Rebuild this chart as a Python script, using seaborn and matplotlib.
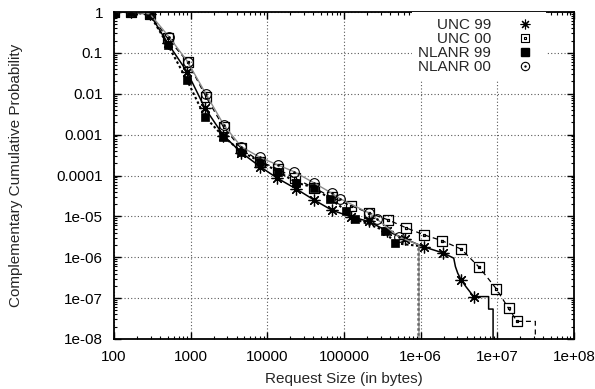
import numpy as np
import seaborn as sns
import matplotlib.pyplot as plt
from matplotlib.path import Path
from matplotlib.lines import Line2D
from matplotlib.ticker import LogLocator, NullFormatter

# complementary CDF of request sizes
unc99_x = [100, 166, 294, 505, 893, 1530, 2680, 4600, 8040, 13500, 23800, 40600,
           70400, 122000, 211000, 364000, 634000, 1.09e6, 1.95e6, 2.7e6, 2.84e6,
           3.04e6, 3.37e6, 3.9e6, 4.91e6, 7.7e6, 7.7e6, 8.8e6, 8.8e6]
unc99_y = [1.0, 1.0, 0.88, 0.17, 0.035, 0.0045, 9.5e-4, 3.6e-4, 1.65e-4, 8.6e-5,
           4.7e-5, 2.53e-5, 1.4e-5, 9.9e-6, 7.5e-6, 4.4e-6, 2.77e-6, 1.8e-6, 1.28e-6,
           9.5e-7, 5.9e-7, 4.1e-7, 2.8e-7, 1.9e-7, 1.09e-7, 1.09e-7, 5.4e-8, 5.4e-8, 1e-9]
unc99_marks = list(range(19)) + [22, 24]

unc00_x = [100, 166, 294, 500, 910, 1580, 2700, 4550, 8040, 13600, 23000, 40600,
           70000, 125000, 214000, 378000, 653000, 1.12e6, 1.88e6, 3.38e6, 5.8e6,
           9.7e6, 1.4e7, 1.81e7, 3.13e7, 3.13e7]
unc00_y = [1.0, 1.0, 0.9, 0.227, 0.061, 0.0085, 1.5e-3, 4.6e-4, 2.2e-4, 1.45e-4,
           8.5e-5, 5.0e-5, 2.9e-5, 1.8e-5, 1.2e-5, 8.2e-6, 5.2e-6, 3.5e-6, 2.56e-6,
           1.58e-6, 5.7e-7, 1.69e-7, 5.6e-8, 2.7e-8, 2.7e-8, 1e-9]
unc00_marks = list(range(24))

nlanr99_x = [100, 166, 294, 505, 893, 1530, 2680, 4600, 8040, 13800, 23900, 40500,
             64800, 106700, 141000, 338000, 458000, 940000, 940000]
nlanr99_y = [1.0, 1.0, 0.85, 0.156, 0.0217, 0.00275, 8.9e-4, 3.84e-4, 2.19e-4,
             1.25e-4, 6.7e-5, 5.06e-5, 2.72e-5, 1.39e-5, 8.55e-6, 4.5e-6, 2.21e-6,
             1.9e-6, 1e-9]
nlanr99_marks = list(range(17))

nlanr00_x = [100, 166, 294, 520, 912, 1580, 2730, 4550, 8040, 13600, 22100, 41200,
             69000, 89000, 214000, 272000, 514000, 950000, 950000]
nlanr00_y = [1.0, 1.0, 0.9, 0.249, 0.061, 0.0099, 1.68e-3, 5.1e-4, 2.77e-4, 1.82e-4,
             1.25e-4, 6.5e-5, 3.7e-5, 2.7e-5, 1.2e-5, 8.4e-6, 3.2e-6, 2.0e-6, 1e-9]
nlanr00_marks = list(range(17))

labels = ["UNC 99", "UNC 00", "NLANR 99", "NLANR 00"]
xticks = [1e2, 1e3, 1e4, 1e5, 1e6, 1e7, 1e8]
xtick_labels = ["100", "1000", "10000", "100000", "1e+06", "1e+07", "1e+08"]
yticks = [1e-8, 1e-7, 1e-6, 1e-5, 1e-4, 1e-3, 1e-2, 1e-1, 1]
ytick_labels = ["1e-08", "1e-07", "1e-06", "1e-05", "0.0001", "0.001", "0.01", "0.1", "1"]

sns.set_style("ticks")
plt.rcParams["font.family"] = ["Liberation Sans", "DejaVu Sans"]
plt.rcParams["font.size"] = 11

# gnuplot style open markers with a dot in the middle
sq = [(-1, -1), (1, -1), (1, 1), (-1, 1), (-1, -1)]
dot = [(-.15, -.15), (.15, -.15), (.15, .15), (-.15, .15), (-.15, -.15)]
sq_dot = Path.make_compound_path(Path(sq, closed=True), Path(dot, closed=True))
circ_dot = Path.make_compound_path(Path.circle((0, 0), 1), Path.circle((0, 0), 0.15))
star = (8, 2, 0)

fig = plt.figure(figsize=(5.95, 3.89), dpi=100)
ax = fig.add_axes([114 / 595, 1 - 339 / 389, 460 / 595, 327 / 389])
ax.set_xscale("log")
ax.set_yscale("log")

series = [
    (unc99_x, unc99_y, unc99_marks, dict(color="black", ls="-", lw=1.1, marker=star, ms=8.5, mec="black", mew=0.9)),
    (unc00_x, unc00_y, unc00_marks, dict(color="black", ls=(0, (4, 3)), lw=0.9, marker=sq_dot, ms=6.5, mfc="none", mec="black", mew=0.9)),
    (nlanr99_x, nlanr99_y, nlanr99_marks, dict(color="black", ls=(0, (1.2, 1.2)), lw=1.5, marker="s", ms=6.3, mfc="black", mec="black", mew=0.5)),
    (nlanr00_x, nlanr00_y, nlanr00_marks, dict(color="0.55", ls="-", lw=1.0, marker=circ_dot, ms=7, mfc="none", mec="black", mew=0.8)),
]
for x, y, marks, kw in series:
    sns.lineplot(x=x, y=y, ax=ax, sort=False, estimator=None, markevery=marks, **kw)

ax.set_xlim(100, 1e8)
ax.set_ylim(1e-8, 1)
ax.set_xticks(xticks, xtick_labels)
ax.set_yticks(yticks, ytick_labels)
ax.xaxis.set_minor_locator(LogLocator(base=10, subs=np.arange(2, 10), numticks=30))
ax.yaxis.set_minor_locator(LogLocator(base=10, subs=np.arange(2, 10), numticks=30))
ax.xaxis.set_minor_formatter(NullFormatter())
ax.yaxis.set_minor_formatter(NullFormatter())
ax.tick_params(which="both", direction="in", top=True, right=True, colors="black")
ax.tick_params(which="major", length=5, width=1, pad=8, labelsize=11)
ax.tick_params(which="minor", length=2.5, width=0.8)
ax.grid(True, which="major", ls=(0, (1, 2)), color="0.35", lw=0.8)
for s in ax.spines.values():
    s.set_linewidth(1.3)
    s.set_color("black")

ax.set_xlabel("Request Size (in bytes)")
ax.set_ylabel("Complementary Cumulative Probability")
ax.xaxis.set_label_coords(0.5, -0.1)
ax.yaxis.set_label_coords(-0.198, 0.5)

handles = [
    Line2D([], [], ls="none", marker=star, ms=7, mec="black", mew=0.8, color="black"),
    Line2D([], [], ls="none", marker=sq_dot, ms=5.5, mfc="none", mec="black", mew=0.8),
    Line2D([], [], ls="none", marker="s", ms=5.5, mfc="black", mec="black"),
    Line2D([], [], ls="none", marker=circ_dot, ms=6, mfc="none", mec="black", mew=0.8),
]
ax.legend(handles, labels, loc="upper right", bbox_to_anchor=(0.939, 1.0),
          markerfirst=False, frameon=True, fancybox=False, edgecolor="none",
          facecolor="white", framealpha=1, labelspacing=0.0, handlelength=2,
          handletextpad=1.2, borderpad=0.4, borderaxespad=0, fontsize=11)

fig.savefig("out.png", dpi=100)
